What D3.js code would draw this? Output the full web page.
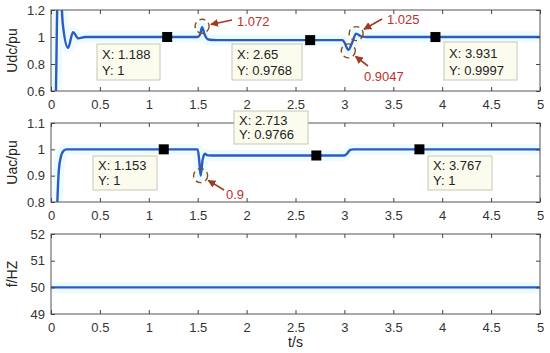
<!DOCTYPE html>
<html>
<head>
<meta charset="utf-8">
<script src="https://cdn.jsdelivr.net/npm/d3@7"></script>
<style>
  body { margin: 0; background: #fff; }
  svg { font-family: "Liberation Sans", Arial, sans-serif; }
  .tick text { fill: #333; font-size: 13px; }
  .domain { display: none; }
  .tick line { stroke: #444; }
</style>
</head>
<body>
<svg id="chart" width="550" height="353"></svg>
<script>
// time axis ticks
const xTicks = [0, 0.5, 1, 1.5, 2, 2.5, 3, 3.5, 4, 4.5, 5];

// DC voltage (pu)
const udcT = [0, 0.045, 0.055, 0.065, 0.085, 0.105, 0.12, 0.175, 0.225, 0.28, 0.35, 1.5, 1.525, 1.545, 1.57, 1.6, 1.65, 1.7, 2.98, 3.0, 3.04, 3.08, 3.12, 3.17, 3.23, 5];
const udcV = [0, 0.4, 0.8, 1.3, 1.5, 1.3, 1.1, 0.92, 1.035, 0.99, 1.0, 1.0, 1.02, 1.072, 1.02, 0.985, 0.978, 0.977, 0.977, 0.96, 0.9047, 0.96, 1.025, 1.005, 1.0, 1.0];
const udcTicks = [0.6, 0.8, 1, 1.2];
const udcTips = [{x: 1.188, y: 1}, {x: 2.65, y: 0.9768}, {x: 3.931, y: 0.9997}];

// AC voltage (pu)
const uacT = [0, 0.05, 0.065, 0.08, 0.1, 0.13, 0.16, 1.5, 1.515, 1.53, 1.55, 1.575, 1.6, 1.65, 3.0, 3.03, 3.06, 3.09, 5];
const uacV = [0, 0.6, 0.8, 0.92, 0.97, 0.995, 1.0, 1.0, 0.96, 0.9, 0.96, 0.983, 0.977, 0.9766, 0.9766, 0.985, 0.998, 1.0, 1.0];
const uacTicks = [0.8, 0.9, 1, 1.1];
const uacTips = [{x: 1.153, y: 1}, {x: 2.713, y: 0.9766}, {x: 3.767, y: 1}];

// frequency (Hz)
const freqT = [0, 5];
const freqV = [50, 50];
const freqTicks = [49, 50, 51, 52];

const svg = d3.select("#chart");
const left = 51, right = 540;
const x = d3.scaleLinear().domain([0, 5]).range([left, right]);

const panels = [
    { id: "p1", top: 10, bottom: 91, domain: [0.6, 1.2], ticks: udcTicks, t: udcT, v: udcV, label: "Udc/pu", tips: udcTips },
    { id: "p2", top: 123, bottom: 202, domain: [0.8, 1.1], ticks: uacTicks, t: uacT, v: uacV, label: "Uac/pu", tips: uacTips },
    { id: "p3", top: 234, bottom: 314, domain: [49, 52], ticks: freqTicks, t: freqT, v: freqV, label: "f/HZ", tips: [] }
];

panels.forEach(p => {
    const y = d3.scaleLinear().domain(p.domain).range([p.bottom, p.top]);
    p.y = y;
    const data = p.t.map((t, i) => ({t: t, v: p.v[i]}));

    svg.append("clipPath").attr("id", "clip-" + p.id)
        .append("rect").attr("x", left).attr("y", p.top)
        .attr("width", right - left).attr("height", p.bottom - p.top);

    const line = d3.line().x(d => x(d.t)).y(d => y(d.v)).curve(d3.curveMonotoneX);
    const g = svg.append("g").attr("clip-path", `url(#clip-${p.id})`);
    g.append("path").datum(data).attr("d", line)
        .attr("fill", "none").attr("stroke", "#ecfbfd").attr("stroke-width", 11);
    g.append("path").datum(data).attr("d", line)
        .attr("fill", "none").attr("stroke", "#2d5bc4").attr("stroke-width", 2.4);

    // box
    svg.append("rect").attr("x", left).attr("y", p.top)
        .attr("width", right - left).attr("height", p.bottom - p.top)
        .attr("fill", "none").attr("stroke", "#555").attr("stroke-width", 1);

    svg.append("g").attr("transform", `translate(0,${p.bottom})`)
        .call(d3.axisBottom(x).tickValues(xTicks).tickSize(-4).tickPadding(9).tickFormat(d3.format("")));
    svg.append("g").attr("transform", `translate(0,${p.top})`)
        .call(d3.axisTop(x).tickValues(xTicks).tickSize(-4).tickFormat(""));
    svg.append("g").attr("transform", `translate(${left},0)`)
        .call(d3.axisLeft(y).tickValues(p.ticks).tickSize(-4).tickPadding(6).tickFormat(d3.format("")));
    svg.append("g").attr("transform", `translate(${right},0)`)
        .call(d3.axisRight(y).tickValues(p.ticks).tickSize(-4).tickFormat(""));

    svg.append("text")
        .attr("transform", `translate(17,${(p.top + p.bottom) / 2}) rotate(-90)`)
        .attr("text-anchor", "middle").attr("font-size", 14).attr("fill", "#222")
        .text(p.label);

    p.tips.forEach(d => {
        svg.append("rect").attr("x", x(d.x) - 5).attr("y", y(d.y) - 5)
            .attr("width", 10).attr("height", 10).attr("fill", "#000");
    });
});

svg.append("text").attr("x", (left + right) / 2).attr("y", 347)
    .attr("text-anchor", "middle").attr("font-size", 14).attr("fill", "#222").text("t/s");

// data tip boxes
function tipBox(bx, by, w, h, xs, ys) {
    svg.append("rect").attr("x", bx).attr("y", by).attr("width", w).attr("height", h)
        .attr("fill", "#fbfbee").attr("stroke", "#c8c8b8");
    const gap = (h - 4) / 2;
    svg.append("text").attr("x", bx + 5).attr("y", by + 2 + gap - 3).attr("font-size", 13).attr("fill", "#222").text("X: " + xs);
    svg.append("text").attr("x", bx + 5).attr("y", by + 2 + 2 * gap - 3).attr("font-size", 13).attr("fill", "#222").text("Y: " + ys);
}
tipBox(97, 44, 63, 36, udcTips[0].x, udcTips[0].y);
tipBox(232, 44, 70, 36, udcTips[1].x, udcTips[1].y);
tipBox(444, 42, 73, 38, udcTips[2].x, udcTips[2].y);
tipBox(93, 156, 64, 34, uacTips[0].x, uacTips[0].y);
tipBox(234, 111, 74, 33, uacTips[1].x, uacTips[1].y);
tipBox(428, 156, 64, 34, uacTips[2].x, uacTips[2].y);

// callouts
svg.append("defs").append("marker").attr("id", "arr")
    .attr("viewBox", "0 0 10 10").attr("refX", 9).attr("refY", 5)
    .attr("markerWidth", 5).attr("markerHeight", 5).attr("orient", "auto")
    .append("path").attr("d", "M0,0L10,5L0,10z").attr("fill", "#a03a22");

function callout(cx, cy, tx, ty, ax, ay, label) {
    svg.append("circle").attr("cx", cx).attr("cy", cy).attr("r", 7)
        .attr("fill", "none").attr("stroke", "#8a4a1a").attr("stroke-width", 1.4)
        .attr("stroke-dasharray", "6,4");
    const ang = Math.atan2(cy - ay, cx - ax);
    svg.append("line").attr("x1", ax).attr("y1", ay)
        .attr("x2", cx - Math.cos(ang) * 9).attr("y2", cy - Math.sin(ang) * 9)
        .attr("stroke", "#a03a22").attr("stroke-width", 1.6).attr("marker-end", "url(#arr)");
    svg.append("text").attr("x", tx).attr("y", ty).attr("font-size", 13).attr("fill", "#c0302a").text(label);
}
const y1 = panels[0].y, y2 = panels[1].y;
callout(x(1.545), y1(1.072) - 1, 237, 26, 232, 20, "1.072");
callout(x(3.12), y1(1.025), 387, 24, 382, 19, "1.025");
callout(x(3.04), y1(0.9047) + 1, 364, 81, 368, 66, "0.9047");
callout(x(1.53), y2(0.9), 226, 199, 224, 190, "0.9");
</script>
</body>
</html>
